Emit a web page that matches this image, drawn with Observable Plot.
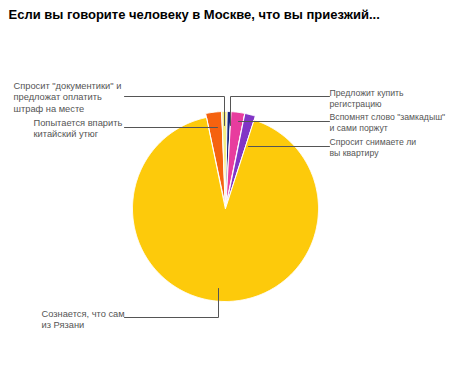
<!DOCTYPE html>
<html>
<head>
<meta charset="utf-8">
<script src="https://cdn.jsdelivr.net/npm/d3@7"></script>
<script src="https://cdn.jsdelivr.net/npm/@observablehq/plot@0.6"></script>
<style>
  html, body { margin: 0; padding: 0; background: #fff; }
  #chart svg { display: block; }
</style>
</head>
<body>
<div id="chart"></div>
<script>
// ---- data ----
const titleText = "Если вы говорите человеку в Москве, что вы приезжий...";
const categories = [
  "Попытается впарить китайский утюг",
  "Спросит \"документики\" и предложат оплатить штраф на месте",
  "Предложит купить регистрацию",
  "Вспомнят слово \"замкадыш\" и сами поржут",
  "Спросит снимаете ли вы квартиру",
  "Сознается, что сам из Рязани"
];
const values = [2.7, 0.9, 0.6, 2.3, 1.8, 91.7];
const sliceColors = ["#F5620F", "#F6EE86", "#1C2580", "#E83C9E", "#8135C6", "#FDCA0B"];
const labelLines = [
  "Попытается впарить\nкитайский утюг",
  "Спросит \"документики\" и\nпредложат оплатить\nштраф на месте",
  "Предложит купить\nрегистрацию",
  "Вспомнят слово \"замкадыш\"\nи сами поржут",
  "Спросит снимаете ли\nвы квартиру",
  "Сознается, что сам\nиз Рязани"
];

// ---- layout (positions / styles) ----
const W = 450, H = 376;
const cx = 225, cy = 208, R = 93, explode = 4;
const startDeg = -12;
const labelPos = [
  {x: 33, y: 117, side: "left"}, {x: 13, y: 80, side: "left"}, {x: 329, y: 87, side: "right"},
  {x: 329, y: 111, side: "right"}, {x: 329, y: 136, side: "right"}, {x: 41, y: 308, side: "left"}
];
const leaders = [
  [[124,127],[217,127]],
  [[124,96],[224,96],[224,125]],
  [[329,96],[230,96],[230,125]],
  [[329,121],[238,121]],
  [[329,146],[248,146]],
  [[124,317],[218,317],[218,288]]
];

const rows = categories.map((c, i) => ({name: c, value: values[i], color: sliceColors[i], label: labelLines[i]}));
const a0 = startDeg * Math.PI / 180;
const arcs = d3.pie().sort(null).value(d => d.value).startAngle(a0).endAngle(a0 + 2 * Math.PI)(rows);

const piePts = [];
arcs.forEach((a, i) => {
  const big = a.data.value > 50;
  const mid = (a.startAngle + a.endAngle) / 2;
  const ox = big ? 0 : explode * Math.sin(mid);
  const oy = big ? 0 : -explode * Math.cos(mid);
  const px = cx + ox, py = cy + oy;
  piePts.push({name: a.data.name, color: a.data.color, x: px, y: py});
  const n = Math.max(4, Math.ceil((a.endAngle - a.startAngle) / 0.01));
  for (let k = 0; k <= n; k++) {
    const t = a.startAngle + (a.endAngle - a.startAngle) * k / n;
    piePts.push({name: a.data.name, color: a.data.color, x: px + R * Math.sin(t), y: py - R * Math.cos(t)});
  }
});

const leaderPts = [];
leaders.forEach((seg, i) => seg.forEach(p => leaderPts.push({id: i, x: p[0], y: p[1]})));
const labelRows = rows.map((r, i) => ({text: r.label, x: labelPos[i].x, y: labelPos[i].y, side: labelPos[i].side}));

const chart = Plot.plot({
  width: W, height: H,
  margin: 0,
  x: {domain: [0, W], range: [0, W], axis: null},
  y: {domain: [0, H], range: [0, H], axis: null},
  color: {type: "identity"},
  style: {background: "#fff"},
  marks: [
    Plot.line(piePts, {x: "x", y: "y", z: "name", fill: "color", stroke: "#fff", strokeWidth: 1, curve: "linear-closed"}),
    Plot.line(leaderPts, {x: "x", y: "y", z: "id", stroke: "#555", strokeWidth: 1}),
    Plot.text(labelRows.filter(d => d.side === "left"), {x: "x", y: "y", text: "text", textAnchor: "start", lineAnchor: "top", lineHeight: 1.24,
      fontFamily: "Liberation Sans, Arial, sans-serif", fontSize: 9.3, fill: "#555"}),
    Plot.text(labelRows.filter(d => d.side === "right"), {x: "x", y: "y", text: "text", textAnchor: "start", lineAnchor: "top", lineHeight: 1.32,
      fontFamily: "Liberation Sans, Arial, sans-serif", fontSize: 8.7, fill: "#555"}),
    Plot.text([titleText], {x: 8, y: 14, text: d => d, textAnchor: "start", lineAnchor: "middle",
      fontFamily: "Liberation Sans, Arial, sans-serif", fontWeight: "bold", fontSize: 13, fill: "#000"})
  ]
});
document.getElementById("chart").appendChild(chart);
</script>
</body>
</html>
